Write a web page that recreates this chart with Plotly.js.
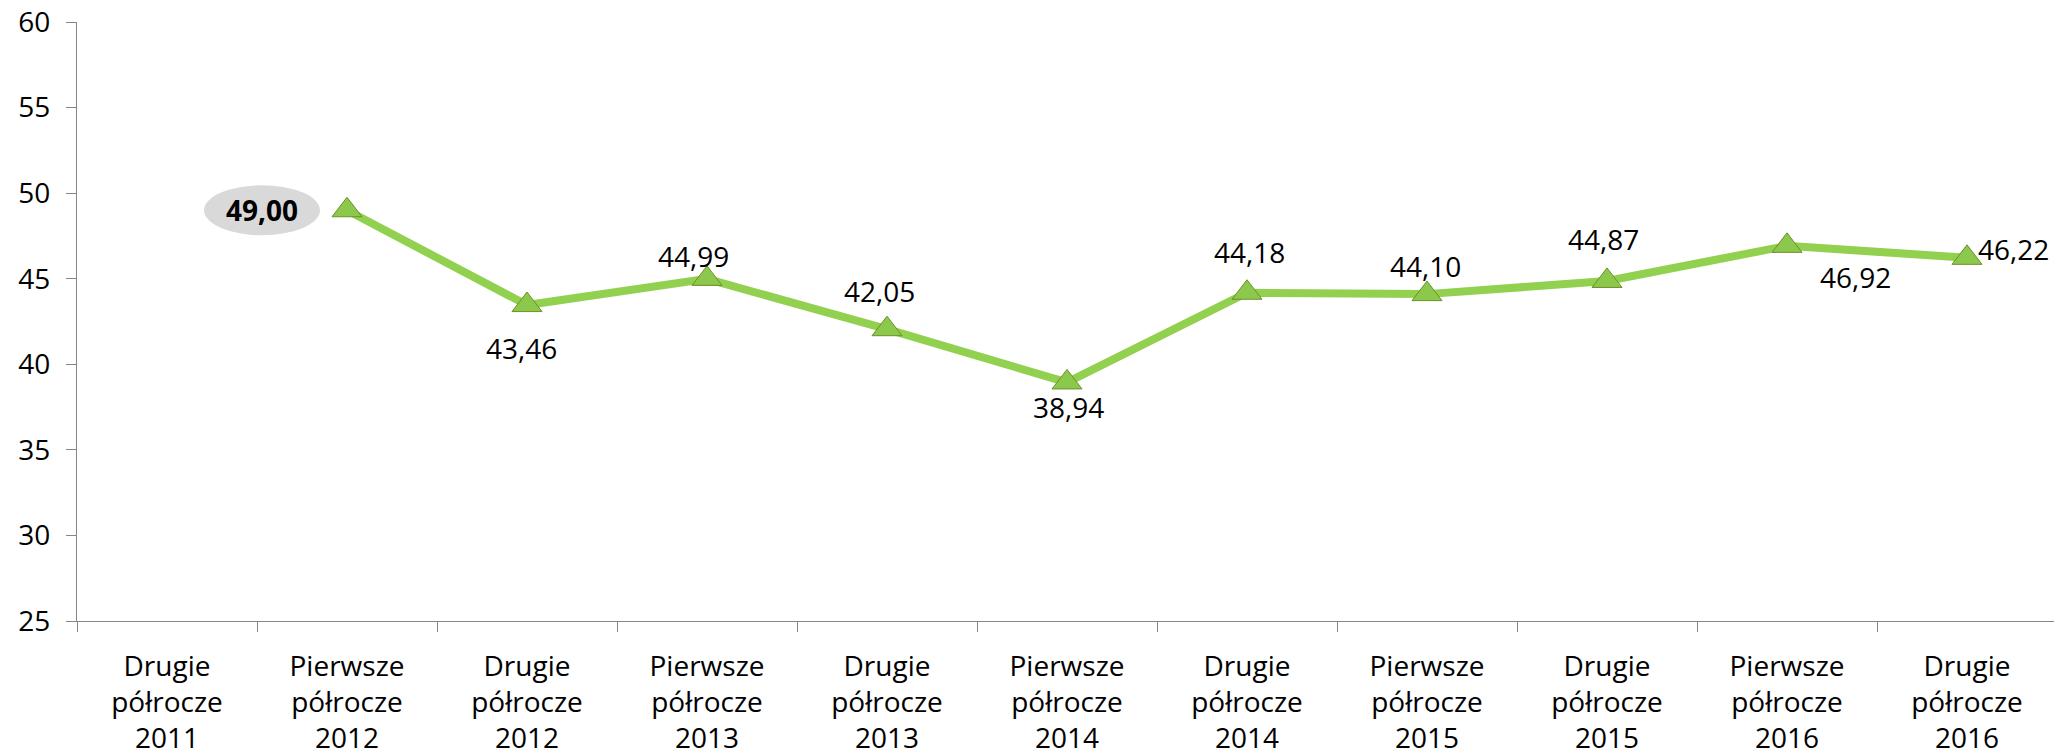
<!DOCTYPE html>
<html>
<head>
<meta charset="utf-8">
<script src="https://cdn.plot.ly/plotly-3.0.1.min.js"></script>
<style>
html, body { margin: 0; padding: 0; overflow: hidden; background: #fff; }
#chart { width: 2060px; height: 755px; }
</style>
</head>
<body>
<div id="chart"></div>
<script>
// ---- data ----
const categories = [
  "Drugie<br>półrocze<br>2011",
  "Pierwsze<br>półrocze<br>2012",
  "Drugie<br>półrocze<br>2012",
  "Pierwsze<br>półrocze<br>2013",
  "Drugie<br>półrocze<br>2013",
  "Pierwsze<br>półrocze<br>2014",
  "Drugie<br>półrocze<br>2014",
  "Pierwsze<br>półrocze<br>2015",
  "Drugie<br>półrocze<br>2015",
  "Pierwsze<br>półrocze<br>2016",
  "Drugie<br>półrocze<br>2016"
];
const values = [null, 49.00, 43.46, 44.99, 42.05, 38.94, 44.18, 44.10, 44.87, 46.92, 46.22];
const yTicks = [25, 30, 35, 40, 45, 50, 55, 60];

// ---- styling (label offsets in pixels, not data) ----
const labelShift = [
  null, [-85, 0], [-6, -43], [-14, 23], [-8, 38], [1, -25],
  [2, 41], [-2, 28], [-4, 42], [68, -31], [46, 9]
];
const FONT = "'Open Sans', 'Noto Sans', sans-serif";
const fmt = v => v.toFixed(2).replace('.', ',');

const trace = {
  type: 'scatter',
  mode: 'lines+markers',
  x: categories,
  y: values,
  connectgaps: false,
  line: { color: '#92d050', width: 8 },
  marker: { symbol: 'triangle-up', size: 26, color: '#8cc84b', line: { color: '#6f8f2a', width: 1 } },
  hoverinfo: 'skip'
};

const annotations = [];
const shapes = [];
values.forEach((v, i) => {
  if (v === null) return;
  const s = labelShift[i];
  const highlight = (i === 1);
  annotations.push({
    x: categories[i], y: v, xref: 'x', yref: 'y',
    text: highlight ? '<b>' + fmt(v) + '</b>' : fmt(v),
    showarrow: false, xshift: s[0], yshift: s[1],
    font: { family: FONT, size: 28, color: '#000' }
  });
  if (highlight) {
    shapes.push({
      type: 'circle', xref: 'x', yref: 'y',
      xsizemode: 'pixel', ysizemode: 'pixel',
      xanchor: categories[i], yanchor: v,
      x0: s[0] - 58, x1: s[0] + 58, y0: s[1] - 25, y1: s[1] + 25,
      fillcolor: '#d9d9d9', line: { width: 0 }, layer: 'below'
    });
  }
});

const layout = {
  width: 2060, height: 755,
  margin: { l: 77, r: 3, t: 22, b: 134 },
  paper_bgcolor: '#fff', plot_bgcolor: '#fff',
  showlegend: false,
  font: { family: FONT, size: 27, color: '#000' },
  xaxis: {
    type: 'category',
    range: [-0.5, categories.length - 0.5],
    autorange: false,
    tickson: 'boundaries',
    ticks: 'outside', ticklen: 10, tickcolor: '#868686', tickwidth: 1,
    showline: true, linecolor: '#868686', linewidth: 1,
    showgrid: false, zeroline: false,
    tickfont: { family: FONT, size: 28, color: '#000' },
    ticklabelstandoff: 20,
    fixedrange: true
  },
  yaxis: {
    range: [25, 60],
    autorange: false,
    tickvals: yTicks,
    ticktext: yTicks.map(String),
    ticks: 'outside', ticklen: 10, tickcolor: '#868686', tickwidth: 1,
    showline: true, linecolor: '#868686', linewidth: 1,
    showgrid: false, zeroline: false,
    tickfont: { family: FONT, size: 28, color: '#000' },
    ticklabelstandoff: 10,
    fixedrange: true
  },
  annotations: annotations,
  shapes: shapes
};

Plotly.newPlot('chart', [trace], layout, { staticPlot: true, displayModeBar: false });
</script>
</body>
</html>
